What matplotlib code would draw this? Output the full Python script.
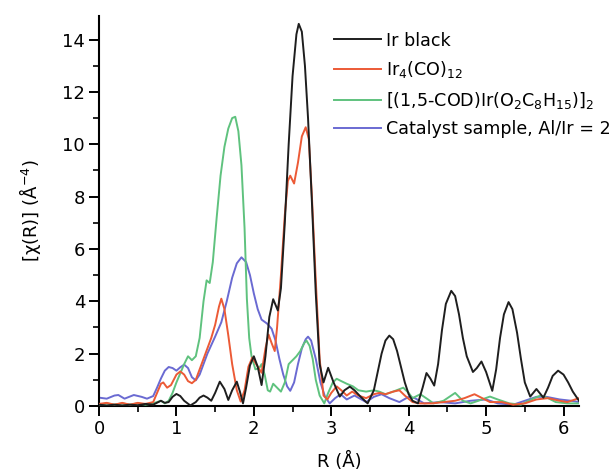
import matplotlib
matplotlib.use("Agg")
import matplotlib.pyplot as plt
from matplotlib.ticker import MultipleLocator

plt.rcParams['font.family'] = ['DejaVu Sans']
plt.rcParams['mathtext.fontset'] = 'dejavusans'

labels = ["Ir black", "Ir$_4$(CO)$_{12}$",
          "[(1,5-COD)Ir(O$_2$C$_8$H$_{15}$)]$_2$",
          "Catalyst sample, Al/Ir = 2"]
colors = ["#1e1e1e", "#ec5a36", "#5fc27e", "#6a6ad2"]

r_black = [0, 0.1, 0.2, 0.3, 0.4, 0.5, 0.6, 0.7, 0.8, 0.85, 0.9, 0.95, 1.0, 1.05, 1.1, 1.18, 1.25, 1.3, 1.35, 1.4,
           1.45, 1.5, 1.56, 1.62, 1.67, 1.72, 1.78, 1.82, 1.86, 1.9, 1.95, 2.0, 2.05, 2.1, 2.15, 2.2, 2.25, 2.31,
           2.35, 2.4, 2.45, 2.5, 2.55, 2.58, 2.62, 2.66, 2.7, 2.75, 2.8, 2.85, 2.9, 2.96, 3.03, 3.11, 3.17, 3.24,
           3.3, 3.38, 3.47, 3.55, 3.6, 3.65, 3.7, 3.75, 3.8, 3.85, 3.9, 3.95, 4.0, 4.05, 4.12, 4.18, 4.23, 4.28,
           4.33, 4.38, 4.43, 4.48, 4.55, 4.6, 4.65, 4.7, 4.75, 4.83, 4.88, 4.94, 5.0, 5.08, 5.13, 5.18, 5.23, 5.29,
           5.34, 5.4, 5.45, 5.5, 5.57, 5.65, 5.74, 5.8, 5.86, 5.93, 6.0, 6.06, 6.12, 6.2]
v_black = [0.05, 0.02, 0.05, 0.02, 0.05, 0.03, 0.08, 0.05, 0.2, 0.12, 0.15, 0.35, 0.46, 0.38, 0.2, 0.02, 0.15, 0.32,
           0.4, 0.32, 0.2, 0.5, 0.93, 0.65, 0.23, 0.6, 0.93, 0.55, 0.1, 0.7, 1.55, 1.9, 1.5, 0.8, 1.9, 3.4, 4.08,
           3.65, 4.5, 7.0, 10.0, 12.6, 14.2, 14.6, 14.3, 13.0, 11.0, 7.8, 4.3, 1.6, 0.9, 1.46, 0.9, 0.36, 0.6,
           0.74, 0.6, 0.35, 0.1, 0.6, 1.3, 2.0, 2.5, 2.69, 2.55, 2.1, 1.5, 0.9, 0.45, 0.2, 0.1, 0.7, 1.26, 1.05,
           0.78, 1.6, 2.9, 3.9, 4.4, 4.2, 3.5, 2.6, 1.9, 1.3, 1.45, 1.7, 1.3, 0.58, 1.4, 2.6, 3.5, 3.97, 3.7, 2.8,
           1.8, 0.9, 0.36, 0.65, 0.32, 0.7, 1.15, 1.35, 1.2, 0.9, 0.55, 0.2]

r_red = [0, 0.1, 0.2, 0.3, 0.4, 0.5, 0.6, 0.7, 0.75, 0.8, 0.83, 0.88, 0.93, 1.0, 1.05, 1.1, 1.15, 1.2, 1.25, 1.3,
         1.35, 1.4, 1.45, 1.5, 1.55, 1.58, 1.62, 1.67, 1.72, 1.78, 1.83, 1.88, 1.93, 1.98, 2.03, 2.1, 2.15, 2.19,
         2.23, 2.27, 2.3, 2.35, 2.4, 2.44, 2.47, 2.52, 2.57, 2.62, 2.67, 2.71, 2.75, 2.8, 2.85, 2.9, 2.95, 3.0,
         3.07, 3.13, 3.2, 3.27, 3.35, 3.45, 3.55, 3.62, 3.7, 3.8, 3.88, 3.95, 4.05, 4.15, 4.3, 4.45, 4.6, 4.72,
         4.85, 4.95, 5.05, 5.2, 5.35, 5.5, 5.65, 5.8, 5.95, 6.05, 6.2]
v_red = [0.08, 0.12, 0.05, 0.12, 0.05, 0.12, 0.08, 0.15, 0.5, 0.85, 0.9, 0.7, 0.8, 1.2, 1.32, 1.2, 0.95, 0.87, 1.0,
         1.4, 1.8, 2.2, 2.6, 3.1, 3.8, 4.1, 3.7, 2.7, 1.6, 0.6, 0.17, 0.6, 1.5, 1.85, 1.6, 1.27, 2.2, 2.73, 2.4,
         2.1, 3.0, 5.0, 7.3, 8.6, 8.8, 8.5, 9.3, 10.3, 10.65, 10.2, 8.0, 4.8, 1.8, 0.4, 0.25, 0.5, 0.75, 0.6, 0.4,
         0.55, 0.4, 0.3, 0.45, 0.5, 0.45, 0.55, 0.6, 0.4, 0.15, 0.1, 0.1, 0.15, 0.2, 0.3, 0.45, 0.3, 0.15, 0.15,
         0.05, 0.1, 0.25, 0.3, 0.2, 0.15, 0.3]

r_green = [0, 0.1, 0.2, 0.3, 0.4, 0.5, 0.6, 0.7, 0.8, 0.85, 0.9, 0.95, 1.0, 1.05, 1.1, 1.15, 1.2, 1.25, 1.3, 1.35,
           1.39, 1.43, 1.47, 1.52, 1.57, 1.62, 1.67, 1.72, 1.76, 1.8, 1.84, 1.88, 1.91, 1.94, 1.97, 2.02, 2.07,
           2.1, 2.14, 2.18, 2.21, 2.25, 2.3, 2.35, 2.4, 2.45, 2.5, 2.55, 2.6, 2.65, 2.68, 2.72, 2.76, 2.8, 2.85,
           2.91, 2.96, 3.02, 3.07, 3.13, 3.2, 3.28, 3.35, 3.45, 3.55, 3.62, 3.7, 3.8, 3.93, 4.0, 4.05, 4.15, 4.25,
           4.32, 4.45, 4.6, 4.7, 4.8, 4.9, 5.05, 5.15, 5.3, 5.45, 5.55, 5.7, 5.8, 5.9, 6.05, 6.2]
v_green = [0.05, 0.1, 0.05, 0.1, 0.05, 0.1, 0.05, 0.1, 0.2, 0.1, 0.2, 0.5, 0.9, 1.25, 1.6, 1.9, 1.75, 1.9, 2.6, 4.0,
           4.8, 4.7, 5.5, 7.2, 8.8, 9.9, 10.6, 11.0, 11.05, 10.5, 9.2, 6.8, 4.1, 2.6, 1.9, 1.4, 1.45, 1.6, 1.2,
           0.6, 0.55, 0.85, 0.7, 0.55, 0.9, 1.6, 1.75, 1.9, 2.1, 2.4, 2.5, 2.3, 1.8, 1.0, 0.4, 0.1, 0.5, 0.9,
           1.04, 0.95, 0.85, 0.75, 0.6, 0.55, 0.6, 0.55, 0.45, 0.55, 0.7, 0.5, 0.3, 0.45, 0.25, 0.1, 0.2, 0.5,
           0.2, 0.1, 0.2, 0.36, 0.25, 0.1, 0.05, 0.2, 0.4, 0.3, 0.15, 0.1, 0.1]

r_blue = [0, 0.1, 0.2, 0.25, 0.33, 0.45, 0.55, 0.62, 0.7, 0.75, 0.8, 0.85, 0.9, 0.95, 1.0, 1.05, 1.1, 1.15, 1.2,
          1.25, 1.3, 1.4, 1.5, 1.58, 1.65, 1.72, 1.78, 1.84, 1.9, 1.95, 2.0, 2.05, 2.1, 2.17, 2.23, 2.28, 2.33,
          2.38, 2.43, 2.47, 2.52, 2.57, 2.62, 2.67, 2.7, 2.74, 2.8, 2.86, 2.92, 2.98, 3.05, 3.12, 3.2, 3.3, 3.45,
          3.55, 3.65, 3.75, 3.88, 4.0, 4.08, 4.2, 4.4, 4.6, 4.8, 5.0, 5.15, 5.35, 5.5, 5.65, 5.78, 5.95, 6.1, 6.2]
v_blue = [0.32, 0.28, 0.4, 0.42, 0.28, 0.42, 0.35, 0.28, 0.38, 0.7, 1.05, 1.35, 1.49, 1.45, 1.35, 1.48, 1.58, 1.45,
          1.1, 0.98, 1.2, 2.0, 2.65, 3.2, 4.0, 4.9, 5.45, 5.68, 5.5, 5.0, 4.3, 3.7, 3.3, 3.15, 2.95, 2.5, 1.8,
          1.2, 0.75, 0.58, 0.9, 1.6, 2.2, 2.55, 2.65, 2.5, 1.8, 0.9, 0.35, 0.1, 0.3, 0.45, 0.25, 0.4, 0.15, 0.35,
          0.45, 0.3, 0.15, 0.35, 0.3, 0.1, 0.15, 0.1, 0.2, 0.25, 0.1, 0.05, 0.2, 0.35, 0.35, 0.25, 0.2, 0.15]

x_ticks = [0, 1, 2, 3, 4, 5, 6]
y_ticks = [0, 2, 4, 6, 8, 10, 12, 14]

FS = 13
LFS = 12.6

fig = plt.figure(figsize=(6.16, 4.73), dpi=100)
ax = fig.add_axes([99/616, 1-406/473, 480/616, 390/473])

series = [(r_black, v_black), (r_red, v_red), (r_green, v_green), (r_blue, v_blue)]
zorders = [5, 4, 3, 2]
for (r, v), lab, c, z in zip(series, labels, colors, zorders):
    ax.plot(r, v, color=c, lw=1.4, label=lab, zorder=z)

ax.set_xlim(0, 6.2)
ax.set_ylim(0, 14.9)
ax.set_xticks(x_ticks)
ax.set_yticks(y_ticks)
ax.xaxis.set_minor_locator(MultipleLocator(0.5))
ax.yaxis.set_minor_locator(MultipleLocator(1))
for s in ['top', 'right']:
    ax.spines[s].set_visible(False)
for s in ['left', 'bottom']:
    ax.spines[s].set_linewidth(1.5)
ax.tick_params(which='major', direction='out', length=7, width=1.4, labelsize=FS, pad=3)
ax.tick_params(which='minor', direction='out', length=4, width=1.2)
ax.set_xlabel("R (Å)", fontsize=FS, labelpad=10)
ax.set_ylabel("[χ(R)] (Å$^{-4}$)", fontsize=FS, labelpad=14)

leg = ax.legend(loc='upper left', bbox_to_anchor=(0.475, 0.978), frameon=False, fontsize=LFS,
                handlelength=2.7, handletextpad=0.3, labelspacing=0.55, borderaxespad=0.0)

fig.savefig("out.png", dpi=100)
